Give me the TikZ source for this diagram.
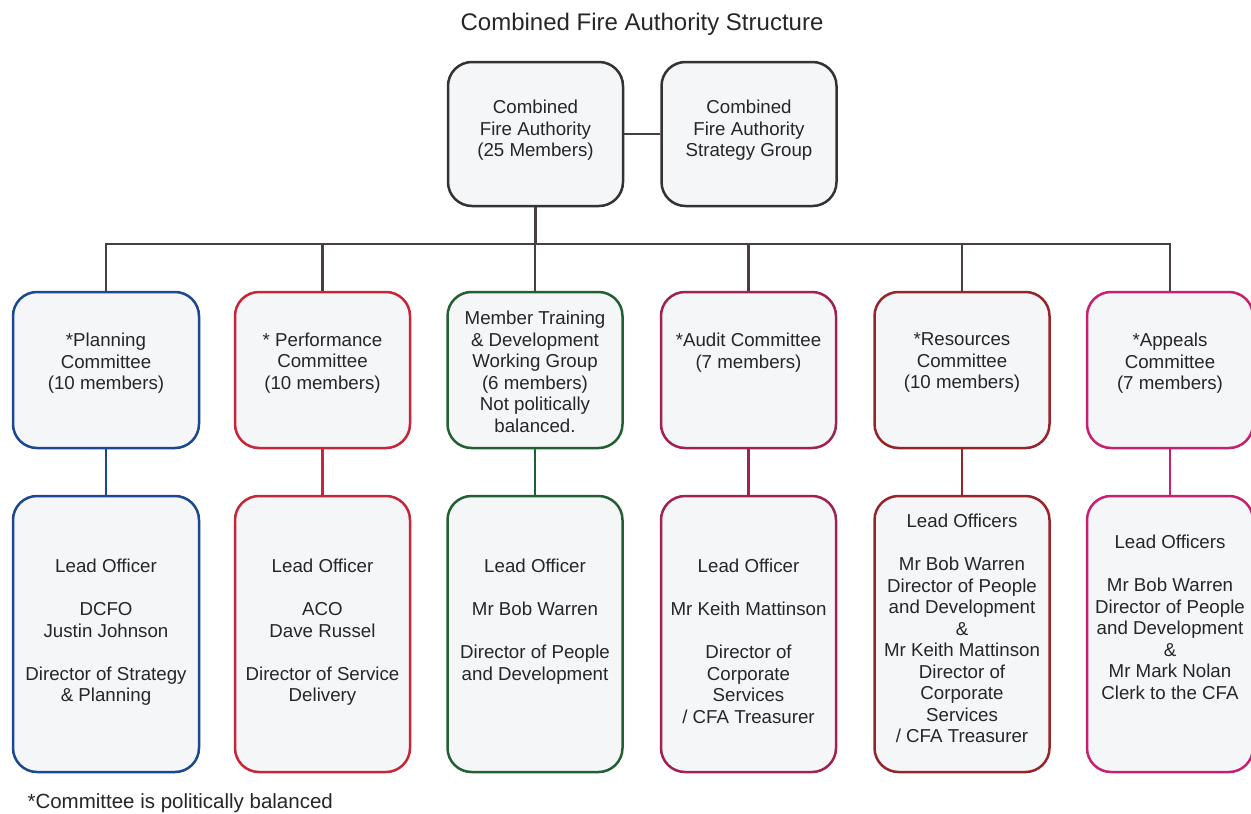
\documentclass[tikz,border=0pt]{standalone}
\usepackage{fontspec}
\setmainfont{Liberation Sans}
\usetikzlibrary{positioning}

\definecolor{linkgray}{RGB}{72,64,64}
\definecolor{boxfill}{RGB}{244,246,248}
\definecolor{planblue}{RGB}{28,72,145}
\definecolor{perfred}{RGB}{200,38,56}
\definecolor{traingreen}{RGB}{34,96,52}
\definecolor{auditplum}{RGB}{160,34,82}
\definecolor{resred}{RGB}{150,36,40}
\definecolor{appealpink}{RGB}{200,32,112}

\begin{document}
\begin{tikzpicture}[x=1pt, y=-1pt,
  box/.style={draw, rounded corners=24pt, line width=2.5pt, fill=boxfill, minimum width=175pt},
  txt/.style={align=center, inner sep=0pt, text=black!85, font=\fontsize{18.7}{21.5}\selectfont},
  link/.style={draw=linkgray, line width=2.2pt}]
  \useasboundingbox (0,0) rectangle (1251,814);
  \clip (0,0) rectangle (1251,814);

  \node[font=\fontsize{24}{28}\selectfont, text=black!85] (title) at (642,24) {Combined Fire Authority Structure};

  % top level
  \node[box, draw=black!80, minimum height=144pt] (cfa) at (535.5,134) {};
  \node[box, draw=black!80, minimum height=144pt] (strat) at (749,134) {};
  \node[txt, below=39pt of cfa.north] (cfa-t) {Combined\\Fire Authority\\(25 Members)};
  \node[txt, below=39pt of strat.north] (strat-t) {Combined\\Fire Authority\\Strategy Group};

  % committees
  \node[box, draw=planblue, minimum width=186pt, minimum height=156pt] (plan) at (106,370) {};
  \node[box, draw=perfred, minimum height=156pt] (perf) at (322.5,370) {};
  \node[box, draw=traingreen, minimum height=156pt] (train) at (535,370) {};
  \node[box, draw=auditplum, minimum height=156pt] (audit) at (748.5,370) {};
  \node[box, draw=resred, minimum height=156pt] (res) at (962,370) {};
  \node[box, draw=appealpink, minimum width=166pt, minimum height=156pt] (appeal) at (1170,370) {};

  \node[txt, below=42pt of plan.north] (plan-t) {*Planning\\Committee\\(10 members)};
  \node[txt, below=42pt of perf.north] (perf-t) {* Performance\\Committee\\(10 members)};
  \node[txt, below=20pt of train.north] (train-t) {Member Training\\\& Development\\Working Group\\(6 members)\\Not politically\\balanced.};
  \node[txt, below=42pt of audit.north] (audit-t) {*Audit Committee\\(7 members)};
  \node[txt, below=42pt of res.north] (res-t) {*Resources\\Committee\\(10 members)};
  \node[txt, below=42pt of appeal.north] (appeal-t) {*Appeals\\Committee\\(7 members)};

  % lead officers
  \node[box, draw=planblue, minimum width=186pt, minimum height=276pt] (plan-off) at (106,634) {};
  \node[box, draw=perfred, minimum height=276pt] (perf-off) at (322.5,634) {};
  \node[box, draw=traingreen, minimum height=276pt] (train-off) at (535,634) {};
  \node[box, draw=auditplum, minimum height=276pt] (audit-off) at (748.5,634) {};
  \node[box, draw=resred, minimum height=276pt] (res-off) at (962,634) {};
  \node[box, draw=appealpink, minimum width=166pt, minimum height=276pt] (appeal-off) at (1170,634) {};

  \node[txt, below=64pt of plan-off.north] (plan-off-t) {Lead Officer\\[21.5pt]DCFO\\Justin Johnson\\[21.5pt]Director of Strategy\\\& Planning};
  \node[txt, below=64pt of perf-off.north] (perf-off-t) {Lead Officer\\[21.5pt]ACO\\Dave Russel\\[21.5pt]Director of Service\\Delivery};
  \node[txt, below=64pt of train-off.north] (train-off-t) {Lead Officer\\[21.5pt]Mr Bob Warren\\[21.5pt]Director of People\\and Development};
  \node[txt, below=64pt of audit-off.north] (audit-off-t) {Lead Officer\\[21.5pt]Mr Keith Mattinson\\[21.5pt]Director of\\Corporate\\Services\\/ CFA Treasurer};
  \node[txt, below=19pt of res-off.north] (res-off-t) {Lead Officers\\[21.5pt]Mr Bob Warren\\Director of People\\and Development\\\&\\Mr Keith Mattinson\\Director of\\Corporate\\Services\\/ CFA Treasurer};
  \node[txt, below=40pt of appeal-off.north] (appeal-off-t) {Lead Officers\\[21.5pt]Mr Bob Warren\\Director of People\\and Development\\\&\\Mr Mark Nolan\\Clerk to the CFA};

  % connectors
  \coordinate[below=37pt of cfa.south] (bus);
  \draw[link] (cfa) -- (strat);
  \draw[link] (cfa) -- (bus);
  \foreach \c in {plan,perf,train,audit,res,appeal}
    \draw[link] (\c.north) |- (bus);
  \foreach \c/\col in {plan/planblue,perf/perfred,train/traingreen,audit/auditplum,res/resred,appeal/appealpink}
    \draw[link, draw=\col] (\c) -- (\c-off);

  \node[anchor=west, text=black!85, font=\fontsize{20.5}{24}\selectfont] (note) at (24,803) {*Committee is politically balanced};
\end{tikzpicture}
\end{document}
